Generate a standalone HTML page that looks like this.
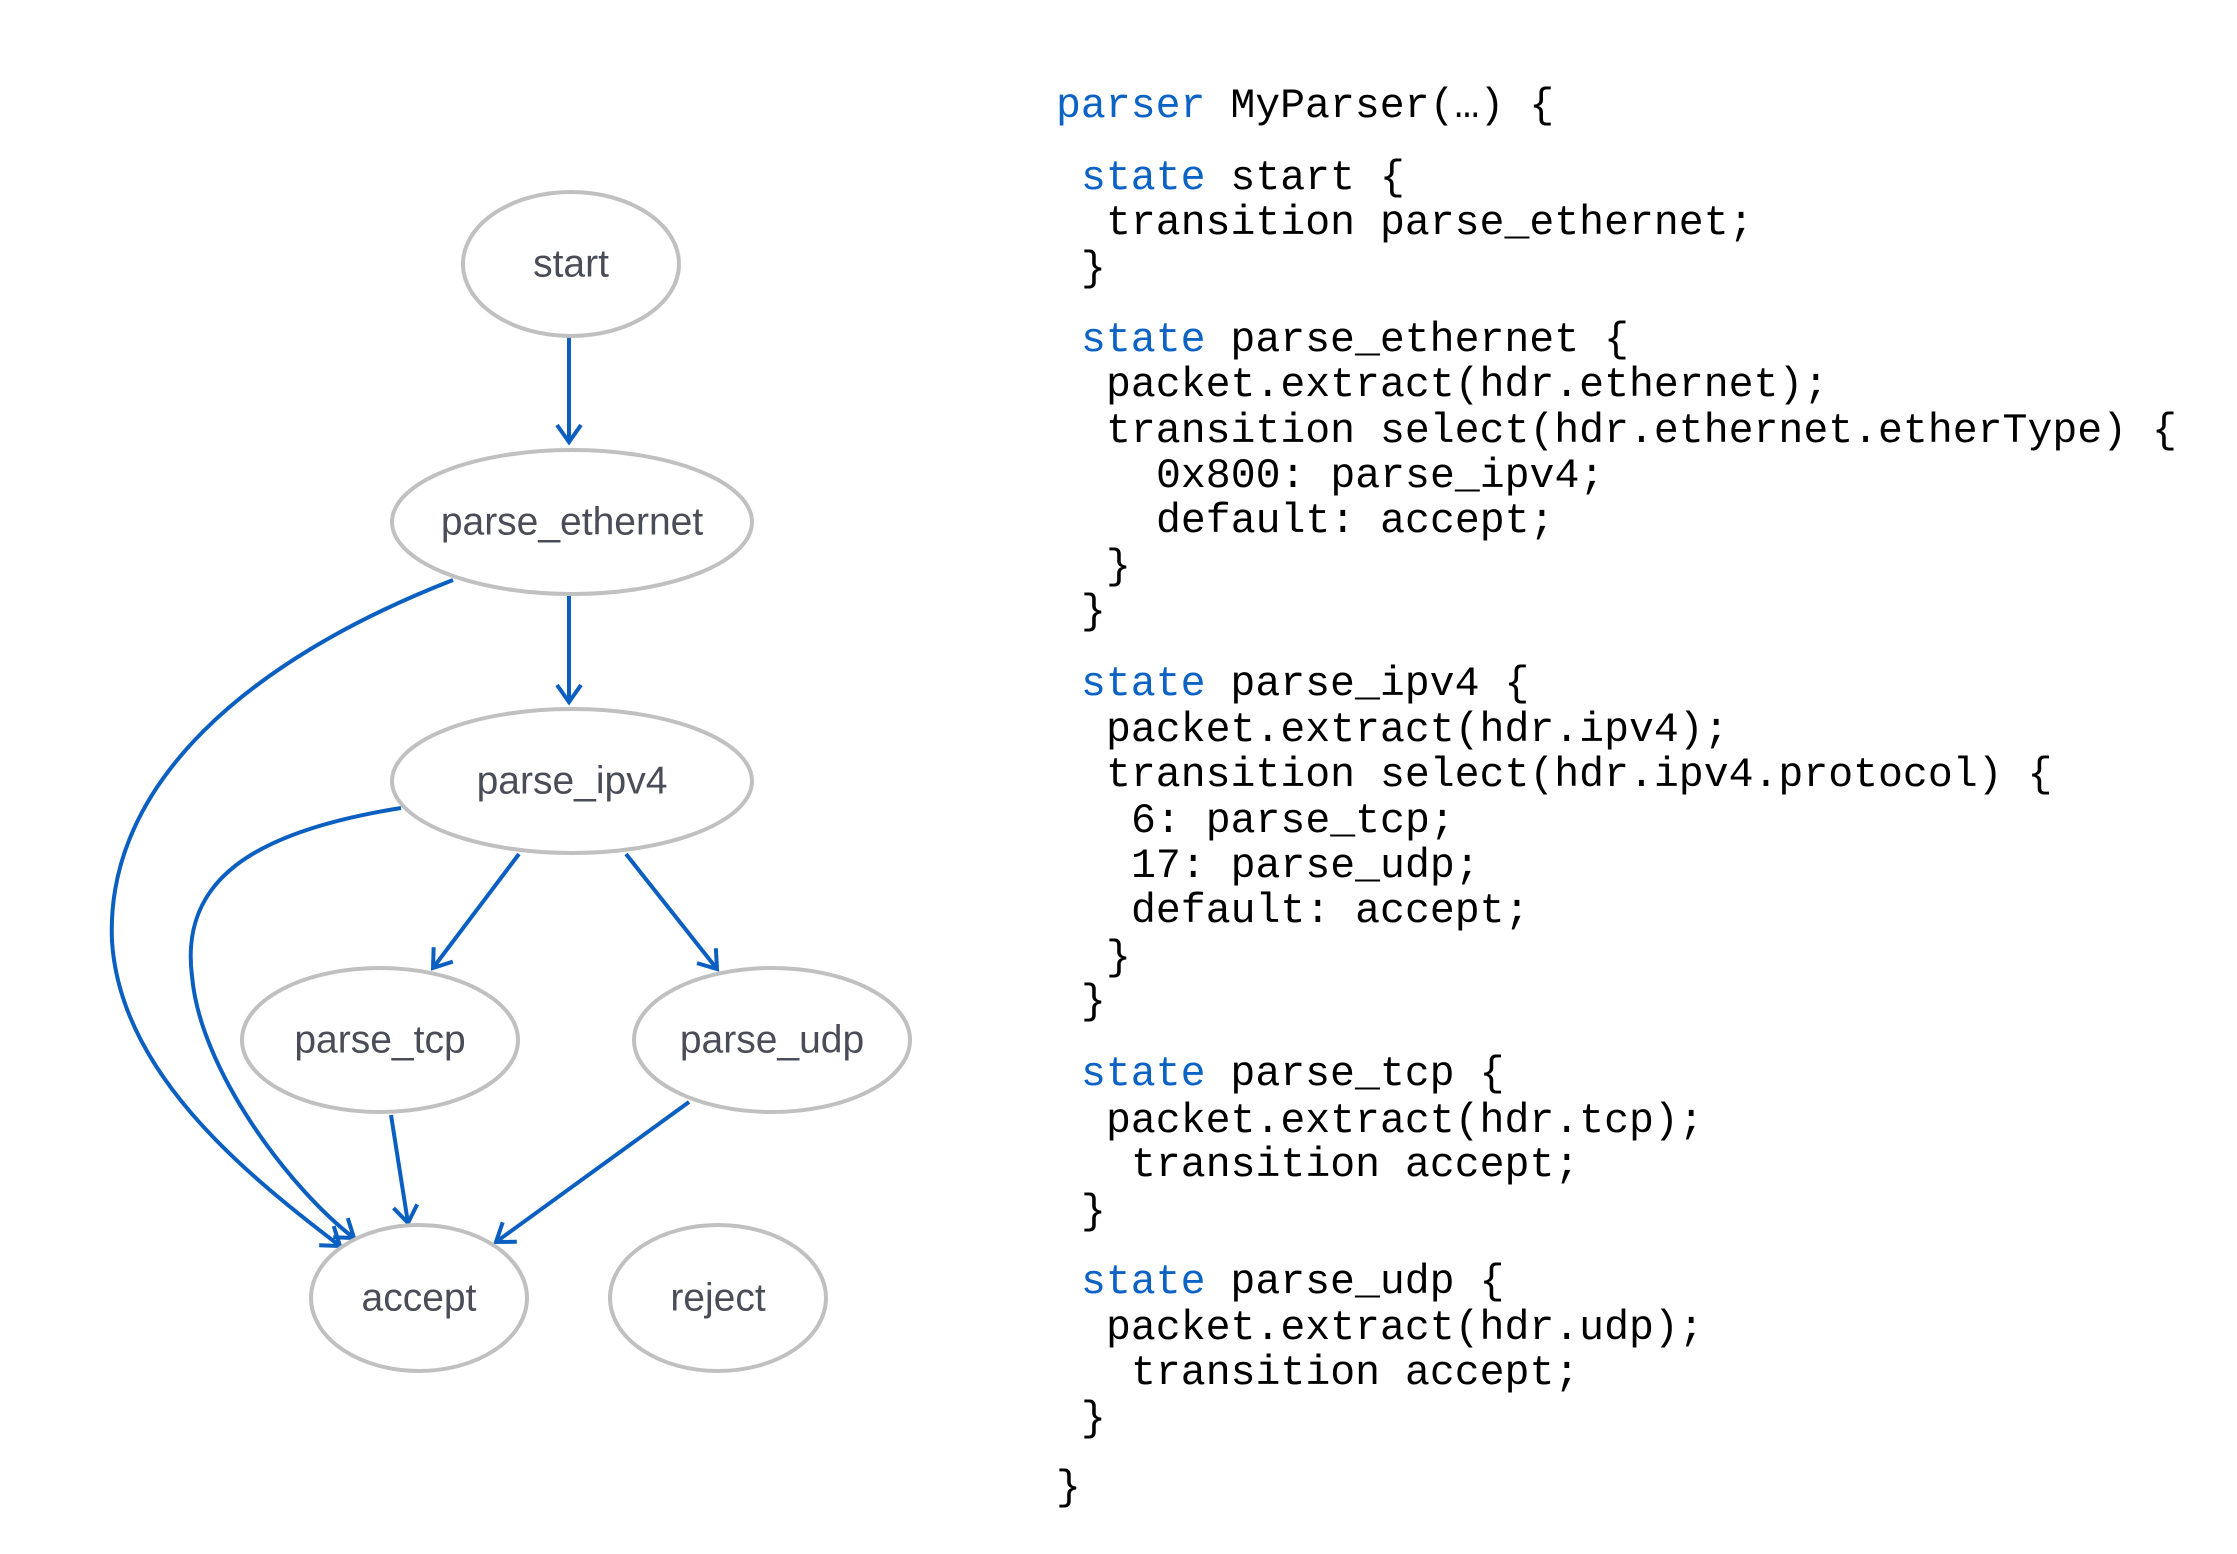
<!DOCTYPE html>
<html><head><meta charset="utf-8"><style>
html,body{margin:0;padding:0;background:#fff;}
svg{display:block;}
.n{fill:#fff;stroke:#c0c0c0;stroke-width:4;}
.l{font-family:"Liberation Sans",sans-serif;font-size:39px;fill:#4a4d58;text-anchor:middle;dominant-baseline:central;}
.e{fill:none;stroke:#0a5fc0;stroke-width:4;}
.c{font-family:"Liberation Mono",monospace;font-size:41.5px;fill:#000;}
.k{fill:#0c63c4;}
</style></head><body>
<svg width="2237" height="1554" viewBox="0 0 2237 1554" xmlns="http://www.w3.org/2000/svg">
<defs>
<marker id="a" viewBox="-20 -14 24 28" refX="0" refY="0" markerWidth="24" markerHeight="28" markerUnits="userSpaceOnUse" orient="auto">
<path d="M-17,-12 L0,0 L-17,12" fill="none" stroke="#0a5fc0" stroke-width="4"/>
</marker>
</defs>
<path class="e" d="M569,337 L569,442" marker-end="url(#a)"/>
<path class="e" d="M569,596 L569,702" marker-end="url(#a)"/>
<path class="e" d="M453,580 C250,659 105,783 112,941 C120,1070 240,1170 340,1246" marker-end="url(#a)"/>
<path class="e" d="M401,808 C250,832 180,882 192,976 C200,1070 290,1189 354,1238" marker-end="url(#a)"/>
<path class="e" d="M519,854 L433,968" marker-end="url(#a)"/>
<path class="e" d="M626,854 L717,969" marker-end="url(#a)"/>
<path class="e" d="M391,1115 L408,1223" marker-end="url(#a)"/>
<path class="e" d="M689,1102 L496,1242" marker-end="url(#a)"/>
<ellipse class="n" cx="571" cy="264" rx="108" ry="72"/><text class="l" x="571" y="264">start</text>
<ellipse class="n" cx="572" cy="522" rx="180" ry="72"/><text class="l" x="572" y="522">parse_ethernet</text>
<ellipse class="n" cx="572" cy="781" rx="180" ry="72"/><text class="l" x="572" y="781">parse_ipv4</text>
<ellipse class="n" cx="380" cy="1040" rx="138" ry="72"/><text class="l" x="380" y="1040">parse_tcp</text>
<ellipse class="n" cx="772" cy="1040" rx="138" ry="72"/><text class="l" x="772" y="1040">parse_udp</text>
<ellipse class="n" cx="419" cy="1298" rx="108" ry="73"/><text class="l" x="419" y="1298">accept</text>
<ellipse class="n" cx="718" cy="1298" rx="108" ry="73"/><text class="l" x="718" y="1298">reject</text>
<g class="c">
<text x="1056" y="117"><tspan class="k">parser</tspan> MyParser(…) {</text>
<text x="1081" y="189"><tspan class="k">state</tspan> start {</text>
<text x="1106" y="234">transition parse_ethernet;</text>
<text x="1081" y="280">}</text>
<text x="1081" y="351"><tspan class="k">state</tspan> parse_ethernet {</text>
<text x="1106" y="396">packet.extract(hdr.ethernet);</text>
<text x="1106" y="442">transition select(hdr.ethernet.etherType) {</text>
<text x="1156" y="487">0x800: parse_ipv4;</text>
<text x="1156" y="532">default: accept;</text>
<text x="1106" y="578">}</text>
<text x="1081" y="623">}</text>
<text x="1081" y="695"><tspan class="k">state</tspan> parse_ipv4 {</text>
<text x="1106" y="741">packet.extract(hdr.ipv4);</text>
<text x="1106" y="786">transition select(hdr.ipv4.protocol) {</text>
<text x="1131" y="832">6: parse_tcp;</text>
<text x="1131" y="877">17: parse_udp;</text>
<text x="1131" y="922">default: accept;</text>
<text x="1106" y="969">}</text>
<text x="1081" y="1013">}</text>
<text x="1081" y="1085"><tspan class="k">state</tspan> parse_tcp {</text>
<text x="1106" y="1132">packet.extract(hdr.tcp);</text>
<text x="1131" y="1176">transition accept;</text>
<text x="1081" y="1223">}</text>
<text x="1081" y="1293"><tspan class="k">state</tspan> parse_udp {</text>
<text x="1106" y="1339">packet.extract(hdr.udp);</text>
<text x="1131" y="1384">transition accept;</text>
<text x="1081" y="1430">}</text>
<text x="1056" y="1499">}</text>
</g>
</svg>
</body></html>
